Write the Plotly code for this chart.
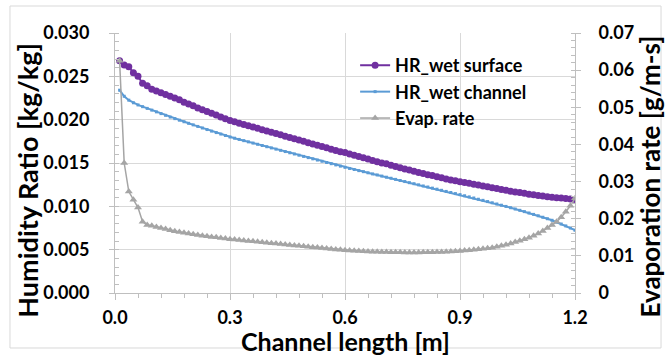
import plotly.graph_objects as go

# Channel length positions [m]
length_m = [
    0.012, 0.024, 0.036, 0.048, 0.060, 0.072, 0.084, 0.096, 0.108, 0.120,
    0.132, 0.144, 0.156, 0.168, 0.180, 0.192, 0.204, 0.216, 0.228, 0.240,
    0.252, 0.264, 0.276, 0.288, 0.300, 0.312, 0.324, 0.336, 0.348, 0.360,
    0.372, 0.384, 0.396, 0.408, 0.420, 0.432, 0.444, 0.456, 0.468, 0.480,
    0.492, 0.504, 0.516, 0.528, 0.540, 0.552, 0.564, 0.576, 0.588, 0.600,
    0.612, 0.624, 0.636, 0.648, 0.660, 0.672, 0.684, 0.696, 0.708, 0.720,
    0.732, 0.744, 0.756, 0.768, 0.780, 0.792, 0.804, 0.816, 0.828, 0.840,
    0.852, 0.864, 0.876, 0.888, 0.900, 0.912, 0.924, 0.936, 0.948, 0.960,
    0.972, 0.984, 0.996, 1.008, 1.020, 1.032, 1.044, 1.056, 1.068, 1.080,
    1.092, 1.104, 1.116, 1.128, 1.140, 1.152, 1.164, 1.176, 1.188, 1.200,
]

# HR_wet surface [kg/kg]
hr_wet_surface = [
    0.02680, 0.02630, 0.02610, 0.02540, 0.02500, 0.02420, 0.02390, 0.02350, 0.02330, 0.02310,
    0.02290, 0.02270, 0.02250, 0.02230, 0.02200, 0.02180, 0.02160, 0.02135, 0.02115, 0.02095,
    0.02075, 0.02055, 0.02030, 0.02010, 0.01990, 0.01975, 0.01960, 0.01945, 0.01930, 0.01915,
    0.01900, 0.01885, 0.01870, 0.01855, 0.01840, 0.01825, 0.01810, 0.01795, 0.01780, 0.01765,
    0.01750, 0.01735, 0.01720, 0.01705, 0.01690, 0.01675, 0.01660, 0.01645, 0.01630, 0.01620,
    0.01605, 0.01590, 0.01575, 0.01560, 0.01545, 0.01530, 0.01515, 0.01500, 0.01490, 0.01475,
    0.01460, 0.01445, 0.01430, 0.01420, 0.01405, 0.01390, 0.01380, 0.01365, 0.01355, 0.01340,
    0.01330, 0.01315, 0.01305, 0.01295, 0.01285, 0.01275, 0.01265, 0.01255, 0.01245, 0.01235,
    0.01225, 0.01215, 0.01205, 0.01195, 0.01185, 0.01175, 0.01165, 0.01160, 0.01150, 0.01140,
    0.01135, 0.01125, 0.01120, 0.01110, 0.01105, 0.01100, 0.01095, 0.01090, 0.01085, 0.01080,
]

# HR_wet channel [kg/kg]
hr_wet_channel = [
    0.02340, 0.02270, 0.02225, 0.02195, 0.02170, 0.02150, 0.02130, 0.02110, 0.02090, 0.02070,
    0.02050, 0.02030, 0.02012, 0.01994, 0.01976, 0.01958, 0.01940, 0.01922, 0.01904, 0.01886,
    0.01868, 0.01851, 0.01834, 0.01817, 0.01800, 0.01786, 0.01772, 0.01758, 0.01744, 0.01730,
    0.01716, 0.01702, 0.01688, 0.01674, 0.01660, 0.01646, 0.01632, 0.01618, 0.01604, 0.01590,
    0.01576, 0.01562, 0.01548, 0.01534, 0.01520, 0.01506, 0.01492, 0.01478, 0.01464, 0.01450,
    0.01437, 0.01425, 0.01412, 0.01400, 0.01387, 0.01374, 0.01362, 0.01349, 0.01336, 0.01324,
    0.01311, 0.01298, 0.01286, 0.01273, 0.01261, 0.01248, 0.01235, 0.01223, 0.01210, 0.01198,
    0.01185, 0.01172, 0.01160, 0.01147, 0.01135, 0.01122, 0.01109, 0.01096, 0.01082, 0.01069,
    0.01055, 0.01041, 0.01027, 0.01013, 0.00999, 0.00984, 0.00969, 0.00954, 0.00939, 0.00923,
    0.00907, 0.00891, 0.00874, 0.00857, 0.00839, 0.00818, 0.00796, 0.00774, 0.00750, 0.00725,
]

# Evaporation rate [g/m-s]
evap_rate = [
    0.06250, 0.03500, 0.02730, 0.02510, 0.02300, 0.01920, 0.01830, 0.01810, 0.01780, 0.01750,
    0.01720, 0.01690, 0.01660, 0.01640, 0.01620, 0.01600, 0.01580, 0.01560, 0.01540, 0.01530,
    0.01510, 0.01500, 0.01480, 0.01470, 0.01450, 0.01438, 0.01426, 0.01414, 0.01402, 0.01390,
    0.01378, 0.01366, 0.01354, 0.01342, 0.01330, 0.01318, 0.01306, 0.01294, 0.01282, 0.01270,
    0.01258, 0.01246, 0.01234, 0.01222, 0.01210, 0.01198, 0.01186, 0.01174, 0.01162, 0.01150,
    0.01142, 0.01135, 0.01128, 0.01122, 0.01117, 0.01112, 0.01108, 0.01104, 0.01101, 0.01098,
    0.01096, 0.01094, 0.01093, 0.01092, 0.01092, 0.01093, 0.01094, 0.01096, 0.01099, 0.01102,
    0.01106, 0.01111, 0.01117, 0.01124, 0.01132, 0.01141, 0.01151, 0.01162, 0.01175, 0.01188,
    0.01203, 0.01220, 0.01242, 0.01270, 0.01300, 0.01330, 0.01370, 0.01410, 0.01450, 0.01490,
    0.01540, 0.01600, 0.01670, 0.01750, 0.01830, 0.01920, 0.02040, 0.02190, 0.02350, 0.02550,
]

FONT = "Lato"
GRID = "#d9d9d9"
AXIS = "#bfbfbf"

fig = go.Figure()
fig.add_trace(go.Scatter(
    x=length_m, y=hr_wet_surface, name="HR_wet surface", mode="lines+markers",
    line=dict(color="#7030A0", width=2),
    marker=dict(symbol="circle", size=7, color="#7030A0"),
))
fig.add_trace(go.Scatter(
    x=length_m, y=hr_wet_channel, name="HR_wet channel", mode="lines+markers",
    line=dict(color="#5B9BD5", width=2),
    marker=dict(symbol="square", size=3, color="#5B9BD5"),
))
fig.add_trace(go.Scatter(
    x=length_m, y=evap_rate, name="Evap. rate", mode="lines+markers", yaxis="y2",
    line=dict(color="#A5A5A5", width=1.5),
    marker=dict(symbol="triangle-up", size=7, color="#A5A5A5"),
))

tickfont = dict(family=FONT, size=18, color="black", weight="bold")

def tfont(size):
    return dict(family=FONT, size=size, color="black", weight="bold")

fig.update_layout(
    width=666, height=356,
    margin=dict(l=115, r=91, t=33, b=63),
    paper_bgcolor="white", plot_bgcolor="white",
    showlegend=True,
    legend=dict(x=0.522, y=0.946, xanchor="left", yanchor="top",
                bgcolor="rgba(0,0,0,0)",
                font=dict(family=FONT, size=18, color="black", weight="bold")),
    xaxis=dict(range=[0, 1.2], dtick=0.3, tick0=0, tickformat=".1f",
               showgrid=True, gridcolor=GRID, gridwidth=1,
               showline=True, linecolor=AXIS, linewidth=1, zeroline=False,
               ticks="outside", ticklen=6, tickcolor=AXIS,
               minor=dict(dtick=0.06, ticks="outside", ticklen=4, tickcolor=AXIS, showgrid=False),
               tickfont=tickfont, ticklabelstandoff=2),
    yaxis=dict(range=[0, 0.030], dtick=0.005, tick0=0, tickformat=".3f",
               showgrid=True, gridcolor=GRID, gridwidth=1,
               showline=True, linecolor=AXIS, linewidth=1, zeroline=False,
               ticks="outside", ticklen=5, tickcolor=AXIS,
               minor=dict(dtick=0.001, ticks="inside", ticklen=4, tickcolor=AXIS, showgrid=False),
               tickfont=tickfont, ticklabelstandoff=16),
    yaxis2=dict(range=[0, 0.07], dtick=0.01, tick0=0, overlaying="y", side="right",
                showgrid=False, showline=True, linecolor=AXIS, linewidth=1, zeroline=False,
                ticks="outside", ticklen=5, tickcolor=AXIS,
                minor=dict(dtick=0.002, ticks="inside", ticklen=4, tickcolor=AXIS, showgrid=False),
                tickfont=tickfont, ticklabelstandoff=14),
    annotations=[
        dict(text="Channel length [m]", xref="paper", yref="paper", x=0.501, y=-0.1846,
             xanchor="center", yanchor="middle", showarrow=False, font=tfont(25)),
        dict(text="Humidity Ratio [kg/kg]", xref="paper", yref="paper", x=-0.192, y=0.4346,
             xanchor="center", yanchor="middle", textangle=-90, showarrow=False, font=tfont(27)),
        dict(text="Evaporation rate [g/m-s]", xref="paper", yref="paper", x=1.163, y=0.448,
             xanchor="center", yanchor="middle", textangle=-90, showarrow=False, font=tfont(26)),
    ],
    shapes=[dict(type="rect", xref="paper", yref="paper",
                 x0=-0.2283, x1=1.187, y0=-0.2115, y1=1.1038,
                 line=dict(color=GRID, width=1), fillcolor="rgba(0,0,0,0)", layer="below")],
)

fig.write_html("out.html")
